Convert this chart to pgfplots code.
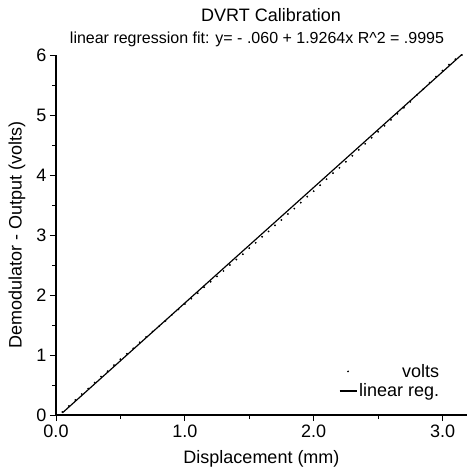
\documentclass[border=0pt]{standalone}
\usepackage{pgfplots}
\pgfplotsset{compat=1.18}
\usepackage{fontspec}
\setmainfont{Liberation Sans}
\pgfplotstableread{
x y
0.05 0.05
0.10 0.15
0.15 0.25
0.20 0.35
0.25 0.44
0.30 0.54
0.35 0.64
0.40 0.73
0.45 0.83
0.50 0.93
0.55 1.02
0.60 1.11
0.65 1.21
0.70 1.30
0.75 1.39
0.80 1.48
0.85 1.57
0.90 1.67
0.95 1.76
1.00 1.85
1.05 1.94
1.10 2.03
1.15 2.13
1.20 2.22
1.25 2.31
1.30 2.40
1.35 2.50
1.40 2.59
1.45 2.68
1.50 2.78
1.55 2.87
1.60 2.97
1.65 3.06
1.70 3.16
1.75 3.25
1.80 3.35
1.85 3.44
1.90 3.54
1.95 3.64
2.00 3.73
2.05 3.83
2.10 3.93
2.15 4.03
2.20 4.12
2.25 4.22
2.30 4.32
2.35 4.42
2.40 4.52
2.45 4.62
2.50 4.72
2.55 4.82
2.60 4.92
2.65 5.02
2.70 5.12
2.75 5.22
2.80 5.33
2.85 5.43
2.90 5.54
2.95 5.64
3.00 5.74
3.05 5.84
3.10 5.93
3.15 6.00
}\volts
\begin{document}
\begin{tikzpicture}
\begin{axis}[
  at={(0,0)}, anchor=south west,
  scale only axis, width=411bp, height=360bp,
  xmin=0, xmax=3.19, ymin=0, ymax=6,
  axis x line=bottom, axis y line=left,
  axis line style={-, line width=1.2pt},
  tick align=outside,
  major tick length=6bp, minor tick length=4bp,
  tick style={black, line width=0.9pt},
  xtick={0,1,2,3}, ytick={0,1,2,3,4,5,6},
  minor x tick num=1, minor y tick num=1,
  xticklabel style={/pgf/number format/.cd, fixed, fixed zerofill, precision=1},
  /pgf/number format/assume math mode=true,
  tick label style={font=\fontsize{18bp}{20bp}\selectfont},
  label style={font=\fontsize{18bp}{20bp}\selectfont},
  xlabel={Displacement (mm)},
  ylabel={Demodulator - Output (volts)},
  ylabel style={at={(rel axis cs:0,0.5)}, anchor=center, rotate=0, yshift=39bp},
  xlabel style={yshift=-6bp},
  legend style={draw=none, fill=none, at={(rel axis cs:0.945,0.035)}, anchor=south east,
    font=\fontsize{18bp}{20bp}\selectfont, row sep=1bp},
  legend cell align=right,
  clip=false,
]
\addplot[only marks, mark=*, mark size=0.7bp, black] table[x=x,y=y] {\volts};
\addlegendentry{volts}
\addplot[black, line width=1.2pt] coordinates {(0.05,0.0363) (3.15,6.0082)};
\addlegendentry{linear reg.}
\end{axis}
\node[anchor=base, font=\fontsize{18bp}{20bp}\selectfont] at (215bp,393bp) {DVRT Calibration};
\node[anchor=base, font=\fontsize{16bp}{18bp}\selectfont] at (201bp,371bp) {linear regression fit: y= - .060 + 1.9264x R\^{}2 = .9995};
\pgfresetboundingbox
\path[use as bounding box] (-56bp,-54bp) rectangle (411bp,415bp);
\end{tikzpicture}
\end{document}
